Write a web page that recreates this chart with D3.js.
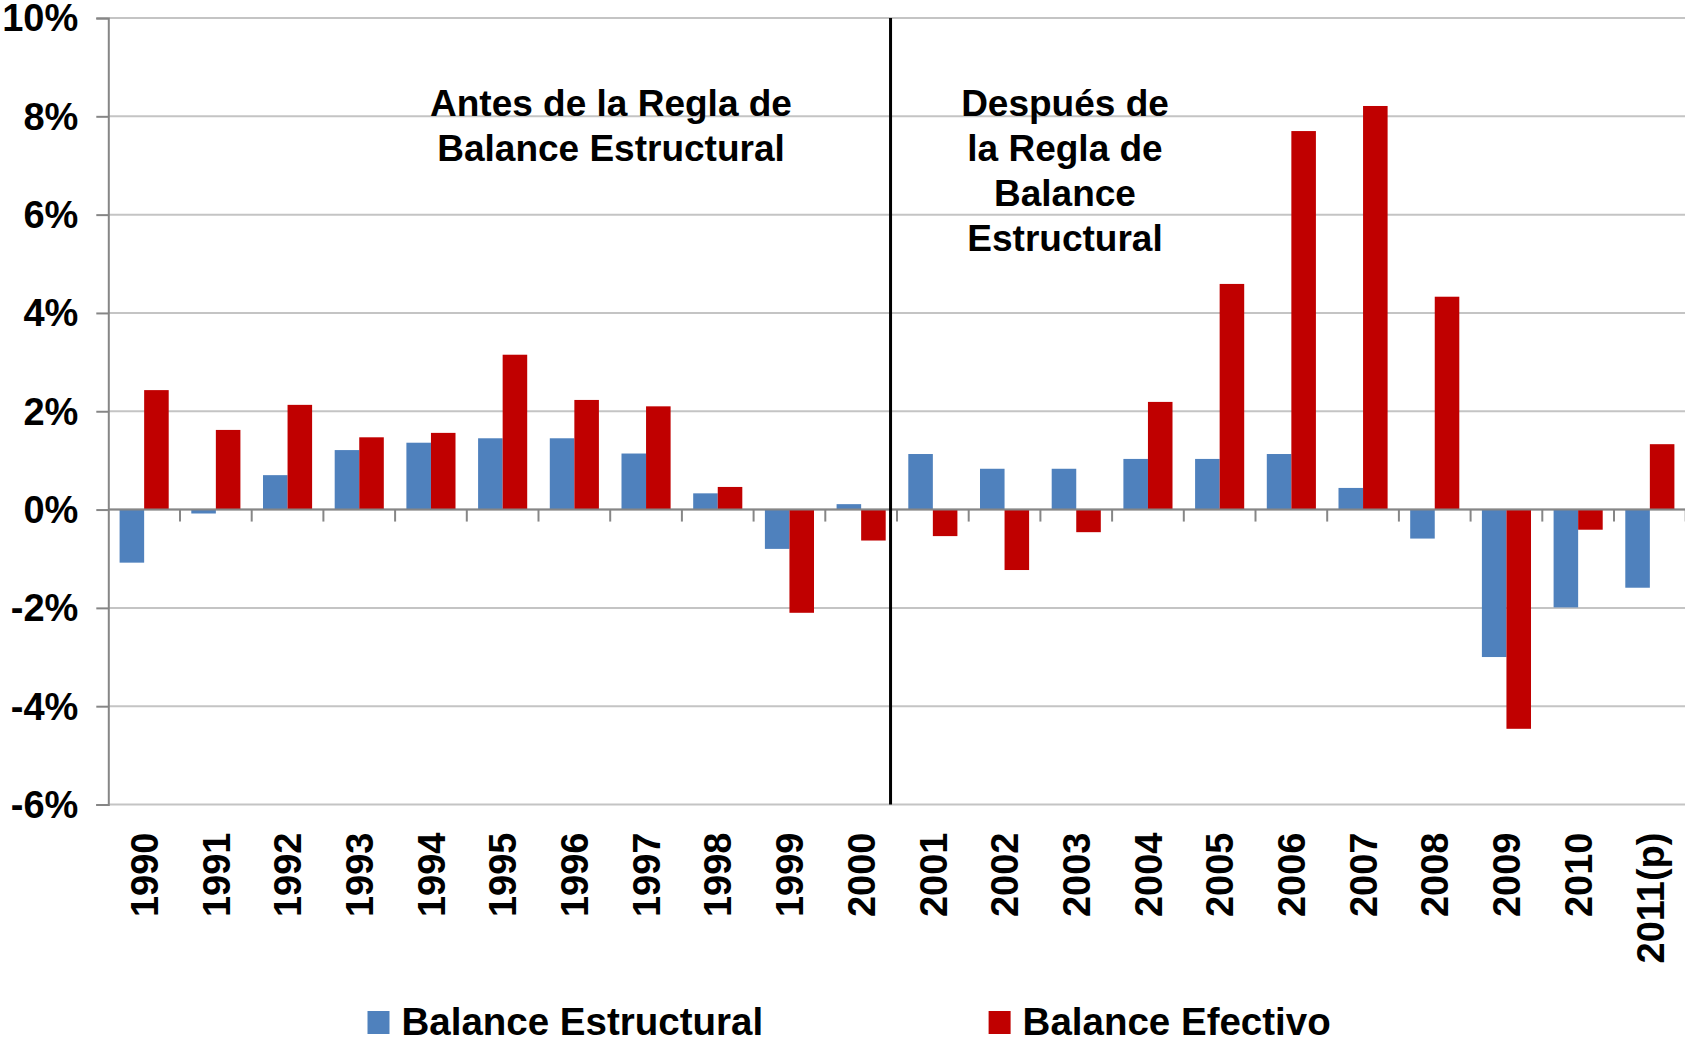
<!DOCTYPE html>
<html>
<head>
<meta charset="utf-8">
<script src="https://cdn.jsdelivr.net/npm/d3@7"></script>
<style>
  html, body { margin: 0; padding: 0; background: #fff; }
  svg { display: block; font-family: "Liberation Sans", Arial, sans-serif; font-weight: bold; }
</style>
</head>
<body>
<svg id="chart"></svg>
<script>
// categories and series
const years = ["1990", "1991", "1992", "1993", "1994", "1995", "1996", "1997", "1998", "1999", "2000",
               "2001", "2002", "2003", "2004", "2005", "2006", "2007", "2008", "2009", "2010", "2011(p)"];
const balanceEstructural = [-1.08, -0.08, 0.70, 1.21, 1.36, 1.45, 1.45, 1.14, 0.33, -0.80, 0.11,
                            1.13, 0.83, 0.83, 1.03, 1.03, 1.13, 0.44, -0.59, -3.00, -1.99, -1.59];
const balanceEfectivo = [2.43, 1.62, 2.13, 1.47, 1.56, 3.15, 2.23, 2.10, 0.46, -2.10, -0.63,
                         -0.54, -1.23, -0.46, 2.19, 4.59, 7.70, 8.21, 4.33, -4.46, -0.41, 1.33];
const seriesNames = ["Balance Estructural", "Balance Efectivo"];
const yTicks = [-6, -4, -2, 0, 2, 4, 6, 8, 10];
const dividerBefore = "2001";
const noteBefore = ["Antes de la Regla de", "Balance Estructural"];
const noteAfter = ["Después de", "la Regla de", "Balance", "Estructural"];

const width = 1685, height = 1045;
const colors = { "Balance Estructural": "#4f81bd", "Balance Efectivo": "#c00000" };

const data = years.map((y, i) => ({ year: y, values: [
    { key: seriesNames[0], value: balanceEstructural[i] },
    { key: seriesNames[1], value: balanceEfectivo[i] }
]}));

const svg = d3.select("#chart").attr("width", width).attr("height", height);

const x = d3.scaleBand()
    .domain(years)
    .range([108.3, 108.3 + years.length * 71.7])
    .padding(0);

const x1 = d3.scaleBand()
    .domain(seriesNames)
    .range([0, x.bandwidth()])
    .paddingInner(0)
    .paddingOuter(0.46);

const y = d3.scaleLinear().domain([-6, 10]).range([804.5, 18]);

// gridlines
svg.append("g")
    .selectAll("line")
    .data(yTicks)
    .enter().append("line")
    .attr("x1", x.range()[0])
    .attr("x2", width)
    .attr("y1", d => y(d))
    .attr("y2", d => y(d))
    .attr("stroke", "#c4c4c4")
    .attr("stroke-width", 2);

// y axis
const yAxis = svg.append("g")
    .attr("transform", `translate(${x.range()[0]},0)`)
    .call(d3.axisLeft(y).tickValues(yTicks).tickSize(12).tickPadding(18).tickFormat(d => d + "%"));
yAxis.select(".domain").attr("stroke", "#868686").attr("stroke-width", 2);
yAxis.selectAll(".tick line").attr("stroke", "#868686").attr("stroke-width", 2);
yAxis.selectAll(".tick text")
    .attr("fill", "#000")
    .attr("dy", "0.34em")
    .style("font-size", "38px")
    .style("font-family", "'Liberation Sans', Arial, sans-serif")
    .style("font-weight", "bold");

// bars
svg.append("g")
    .selectAll("g")
    .data(data)
    .enter().append("g")
    .attr("transform", d => `translate(${x(d.year)},0)`)
    .selectAll("rect")
    .data(d => d.values)
    .enter().append("rect")
    .attr("x", d => x1(d.key))
    .attr("y", d => y(Math.max(0, d.value)))
    .attr("width", x1.bandwidth())
    .attr("height", d => Math.abs(y(d.value) - y(0)))
    .attr("fill", d => colors[d.key]);

// category axis on the zero line, ticks at category boundaries
const boundaries = years.slice(1).map(d => x(d)).concat([x.range()[1]]);
const xAxis = svg.append("g");
xAxis.append("line")
    .attr("x1", x.range()[0])
    .attr("x2", width)
    .attr("y1", y(0))
    .attr("y2", y(0))
    .attr("stroke", "#868686")
    .attr("stroke-width", 2);
xAxis.selectAll("line.tick")
    .data(boundaries)
    .enter().append("line")
    .attr("class", "tick")
    .attr("x1", d => d)
    .attr("x2", d => d)
    .attr("y1", y(0))
    .attr("y2", y(0) + 12)
    .attr("stroke", "#868686")
    .attr("stroke-width", 2);

// year labels below the plot
const labelAxis = svg.append("g")
    .attr("transform", `translate(0,${y(-6)})`)
    .call(d3.axisBottom(x).tickSize(0).tickPadding(0));
labelAxis.select(".domain").remove();
labelAxis.selectAll(".tick text")
    .attr("fill", "#000")
    .style("font-size", "38px")
    .style("font-family", "'Liberation Sans', Arial, sans-serif")
    .style("font-weight", "bold")
    .style("text-anchor", "end")
    .attr("transform", "translate(0,28) rotate(-90)")
    .attr("x", 0)
    .attr("y", 0)
    .attr("dy", "0.36em");

// divider between periods
const divX = x(dividerBefore) - 0.09 * x.step();
svg.append("line")
    .attr("x1", divX)
    .attr("x2", divX)
    .attr("y1", y(10))
    .attr("y2", y(-6))
    .attr("stroke", "#000")
    .attr("stroke-width", 3);

// period annotations
svg.append("text")
    .attr("x", 611)
    .attr("y", 116)
    .attr("text-anchor", "middle")
    .style("font-size", "37px")
    .selectAll("tspan")
    .data(noteBefore)
    .enter().append("tspan")
    .attr("x", 611)
    .attr("dy", (d, i) => i === 0 ? 0 : 45)
    .text(d => d);

svg.append("text")
    .attr("x", 1065)
    .attr("y", 116)
    .attr("text-anchor", "middle")
    .style("font-size", "37px")
    .selectAll("tspan")
    .data(noteAfter)
    .enter().append("tspan")
    .attr("x", 1065)
    .attr("dy", (d, i) => i === 0 ? 0 : 45)
    .text(d => d);

// legend
const legendX = [367.5, 988.6];
const legend = svg.append("g")
    .selectAll("g")
    .data(seriesNames)
    .enter().append("g")
    .attr("transform", (d, i) => `translate(${legendX[i]},1011)`);
legend.append("rect")
    .attr("width", 22)
    .attr("height", 23)
    .attr("fill", d => colors[d]);
legend.append("text")
    .attr("x", 34)
    .attr("y", 24)
    .style("font-size", "38.5px")
    .text(d => d);
</script>
</body>
</html>
